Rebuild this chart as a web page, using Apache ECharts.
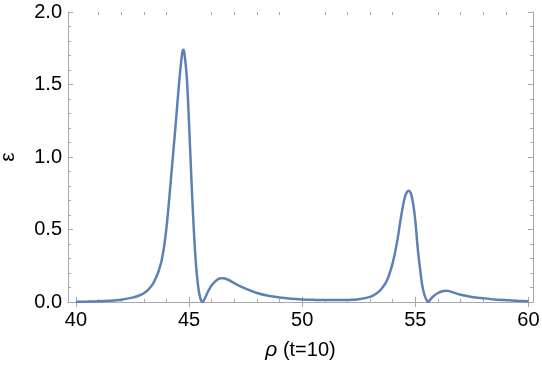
<!DOCTYPE html>
<html><head><meta charset="utf-8">
<script src="https://cdn.jsdelivr.net/npm/echarts@6/dist/echarts.min.js"></script>
<style>html,body{margin:0;padding:0;background:#fff}#c{width:542px;height:365px}</style>
</head><body><div id="c"></div>
<script>
const rho = [40.0,40.5,41.0,41.5,42.0,42.5,42.8,43.0,43.2,43.4,43.6,43.7,43.8,43.9,44.0,44.1,44.2,44.3,44.4,44.5,44.6,44.7,44.75,44.8,44.9,45.0,45.1,45.2,45.3,45.4,45.5,45.6,45.7,45.8,45.9,46.0,46.2,46.4,46.5,46.7,47.0,47.5,48.0,48.5,49.0,49.5,50.0,50.5,51.0,51.5,52.0,52.5,53.0,53.3,53.5,53.75,54.0,54.2,54.35,54.5,54.6,54.7,54.8,54.9,55.0,55.1,55.2,55.3,55.4,55.5,55.56,55.65,55.8,56.0,56.2,56.35,56.5,57.0,57.5,58.0,58.5,59.0,59.5,60.0];
const eps = [0.002,0.003,0.005,0.009,0.016,0.030,0.045,0.06,0.085,0.125,0.19,0.235,0.295,0.385,0.51,0.67,0.85,1.03,1.21,1.40,1.58,1.72,1.74,1.71,1.55,1.23,0.86,0.53,0.27,0.11,0.025,0.0,0.025,0.06,0.09,0.115,0.148,0.163,0.163,0.155,0.13,0.092,0.062,0.043,0.031,0.023,0.018,0.015,0.013,0.013,0.014,0.019,0.035,0.06,0.09,0.15,0.27,0.42,0.57,0.70,0.75,0.768,0.75,0.68,0.56,0.38,0.24,0.12,0.05,0.012,0.0,0.015,0.04,0.062,0.074,0.077,0.075,0.05,0.035,0.026,0.018,0.013,0.009,0.006];
const xMajor = [40,45,50,55,60];
const xMinor = [41,42,43,44,46,47,48,49,51,52,53,54,56,57,58,59];

const frame = '#a8a8a8';
const font = 'Liberation Sans, Arial';
const xMin = 39.65, xMax = 60.2;
function xa(pos, vals, len, labels, line){
  return {type:'value', position:pos, min:xMin, max:xMax,
    axisLine:{show:line, lineStyle:{color:frame, width:1}},
    axisTick:{show:true, inside:true, length:len, customValues:vals, lineStyle:{color:frame}},
    axisLabel:{show:labels, customValues:vals, color:'#000', fontSize:20, fontFamily:font, margin:8},
    splitLine:{show:false}};
}
function ya(pos, labels){
  return {type:'value', position:pos, min:0, max:2, interval:0.5,
    axisLine:{show:true, lineStyle:{color:frame, width:1}},
    axisTick:{show:true, inside:true, length:5, lineStyle:{color:frame}},
    minorTick:{show:true, splitNumber:5, length:3, lineStyle:{color:frame}},
    axisLabel:{show:labels, color:'#000', fontSize:20, fontFamily:font, margin:6,
      formatter:v=>v.toFixed(1)},
    splitLine:{show:false}};
}
const xAxes = [xa('bottom', xMajor, 5, true, true), xa('top', xMajor, 5, false, true),
  xa('bottom', xMinor, 3, false, false), xa('top', xMinor, 3, false, false)];
xAxes[0].name = '{i|ρ} (t=10)';
xAxes[0].nameLocation = 'middle';
xAxes[0].nameGap = 38;
xAxes[0].nameTextStyle = {color:'#000', fontSize:20, fontFamily:font,
  rich:{i:{fontStyle:'italic', fontSize:21, fontFamily:font}}};
const yAxes = [ya('left', true), ya('right', false)];
yAxes[0].name = 'ε';
yAxes[0].nameLocation = 'middle';
yAxes[0].nameRotate = 90;
yAxes[0].nameGap = 49;
yAxes[0].nameTextStyle = {color:'#000', fontSize:21, fontFamily:font};

const chart = echarts.init(document.getElementById('c'), null, {renderer:'canvas'});
chart.setOption({
  animation:false,
  grid:{left:68, right:9, top:12, bottom:63, containLabel:false, outerBoundsMode:'none'},
  xAxis: xAxes,
  yAxis: yAxes,
  series:[{type:'line', xAxisIndex:0, yAxisIndex:0, data: rho.map((x,i)=>[x,eps[i]]),
    showSymbol:false, smooth:0.3, lineStyle:{color:'#5E81B5', width:2.5}, itemStyle:{color:'#5E81B5'}}]
});
</script></body></html>
